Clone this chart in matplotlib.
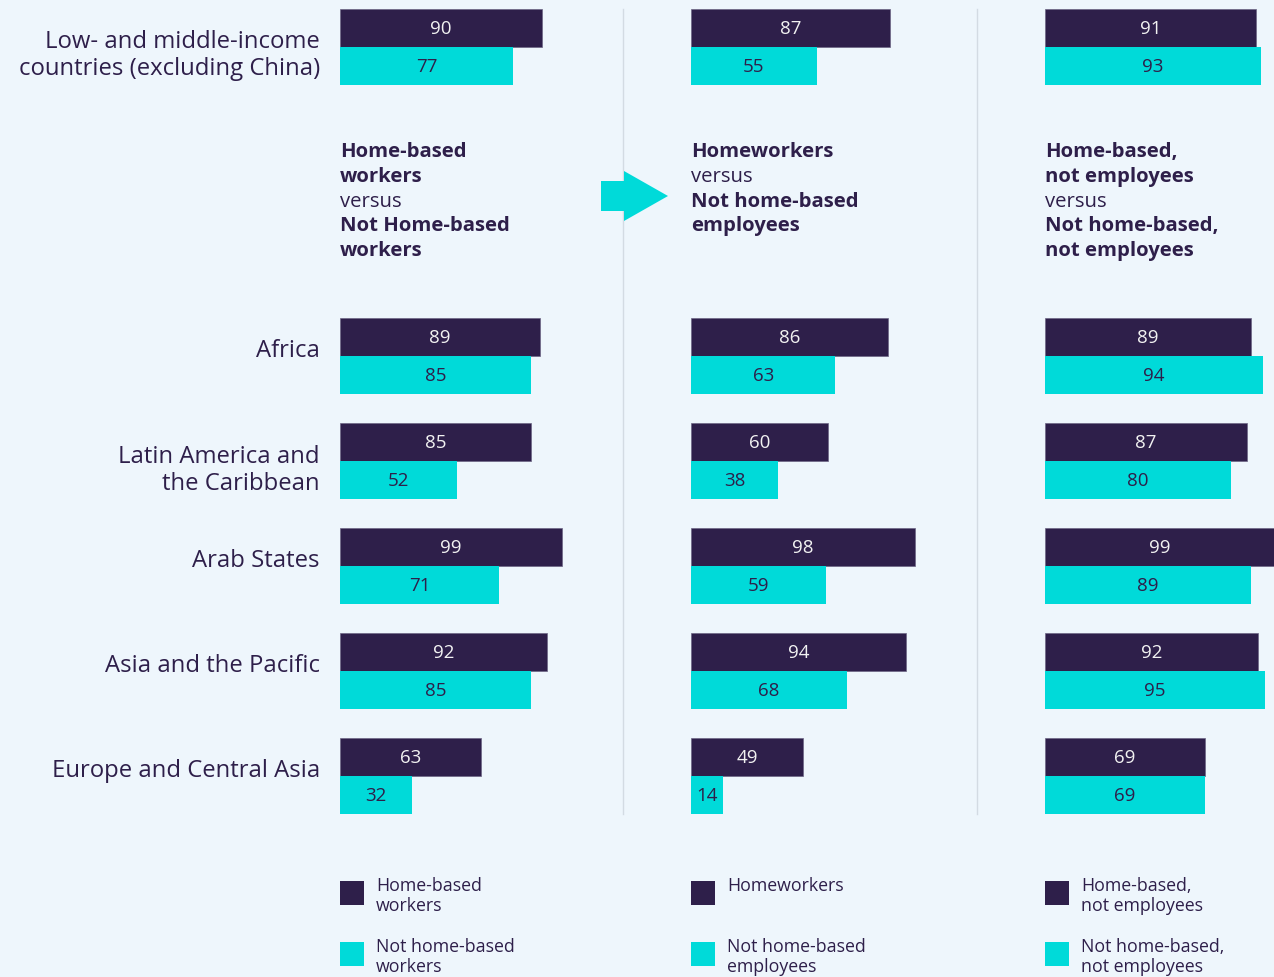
import matplotlib.pyplot as plt
from matplotlib.patches import Polygon, Rectangle

plt.rcParams["font.family"] = ["Open Sans", "DejaVu Sans"]

BG = "#eef6fc"
DARK = "#2e1f4a"
CYAN = "#00dad9"
W, H = 1274, 978

regions = ["Low- and middle-income\ncountries (excluding China)", "Africa",
           "Latin America and\nthe Caribbean", "Arab States",
           "Asia and the Pacific", "Europe and Central Asia"]
# group slots (one slot = 105 px); the first group is set apart
slots = [0, 2.95, 3.95, 4.95, 5.95, 6.95]

hb_workers = [90, 89, 85, 99, 92, 63]
not_hb_workers = [77, 85, 52, 71, 85, 32]
homeworkers = [87, 86, 60, 98, 94, 49]
not_hb_employees = [55, 63, 38, 59, 68, 14]
hb_not_employees = [91, 89, 87, 99, 92, 69]
not_hb_not_employees = [93, 94, 80, 89, 95, 69]

panels = [
    (hb_workers, not_hb_workers),
    (homeworkers, not_hb_employees),
    (hb_not_employees, not_hb_not_employees),
]
headers = [
    [("Home-based", "bold"), ("workers", "bold"), ("versus", "normal"),
     ("Not Home-based", "bold"), ("workers", "bold")],
    [("Homeworkers", "bold"), ("versus", "normal"),
     ("Not home-based", "bold"), ("employees", "bold")],
    [("Home-based,", "bold"), ("not employees", "bold"), ("versus", "normal"),
     ("Not home-based,", "bold"), ("not employees", "bold")],
]
legends = [
    ("Home-based\nworkers", "Not home-based\nworkers"),
    ("Homeworkers", "Not home-based\nemployees"),
    ("Home-based,\nnot employees", "Not home-based,\nnot employees"),
]

# layout in pixels
lefts = [340, 691, 1045]
scales = [2.245, 2.29, 2.32]
SLOT = 105.0
TOP = 47.5
BAR_H = 38 / SLOT

fig = plt.figure(figsize=(W / 100, H / 100), dpi=100)
fig.patch.set_facecolor(BG)


def fx(x):
    return x / W


def fy(y):
    return 1 - y / H


# separators
for x in (623, 977):
    fig.add_artist(plt.Line2D([fx(x), fx(x)], [fy(10), fy(815)],
                              color="#d3dbe3", lw=1, zorder=0))

for left, scale, (dark, light) in zip(lefts, scales, panels):
    ax = fig.add_axes([fx(left), 0, 100 * scale / W, 1])
    ax.set_facecolor("none")
    ax.set_xlim(0, 100)
    ax.set_ylim((H - TOP) / SLOT, -TOP / SLOT)
    ax.axis("off")
    yd = [s - BAR_H / 2 for s in slots]
    yl = [s + BAR_H / 2 for s in slots]
    ax.barh(yd, dark, height=BAR_H, color=DARK, edgecolor="#6d6585", linewidth=0.5)
    ax.barh(yl, light, height=BAR_H, color=CYAN, linewidth=0)
    for y, v in zip(yd, dark):
        ax.text(v / 2, y, str(v), ha="center", va="center", fontsize=13.5,
                color="#f2f2f2")
    for y, v in zip(yl, light):
        ax.text(v / 2, y, str(v), ha="center", va="center", fontsize=13.5,
                color=DARK)

# region labels
for s, name in zip(slots, regions):
    off = 8 if "\n" in name else -6
    fig.text(fx(320), fy(TOP + s * SLOT + off), name, ha="right", va="center",
             fontsize=17.2, color=DARK, linespacing=1.15)

# headers
for left, lines in zip(lefts, headers):
    for i, (txt, wt) in enumerate(lines):
        fig.text(fx(left), fy(152 + i * 24.8), txt, ha="left", va="center",
                 fontsize=14.6, fontweight=wt, color=DARK)

# arrow between panel 1 and 2
arrow = [(601, 182), (624, 182), (624, 172), (668, 197), (624, 222),
         (624, 212), (601, 212)]
fig.add_artist(Polygon([(fx(x), fy(y)) for x, y in arrow], closed=True,
                       transform=fig.transFigure, color=CYAN, lw=0, zorder=3))

# legends
for left, (l1, l2) in zip(lefts, legends):
    for yc, col, lab in ((894, DARK, l1), (955, CYAN, l2)):
        fig.add_artist(Rectangle((fx(left), fy(yc + 12)), 24 / W, 24 / H,
                                 transform=fig.transFigure, color=col, lw=0))
        fig.text(fx(left + 36), fy(yc - 17), lab, ha="left", va="top",
                 fontsize=12.8, color=DARK, linespacing=1.15)

fig.savefig("out.png", dpi=100, facecolor=BG)
